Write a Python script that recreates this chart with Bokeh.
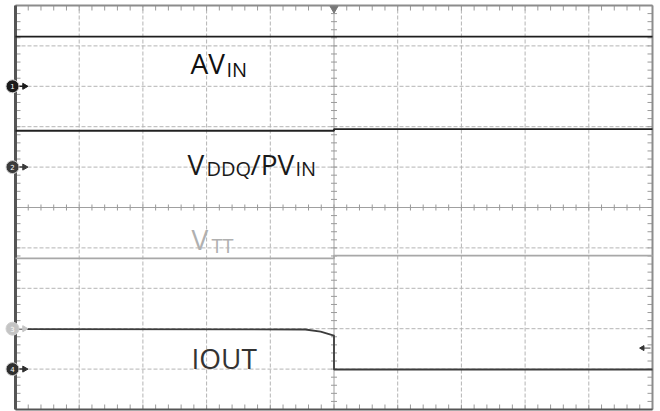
import math
from bokeh.plotting import figure
from bokeh.models import Range1d
from bokeh.embed import file_html
from bokeh.resources import INLINE
from bokeh.core.properties import value

# ---- data (screen divisions: time 0..10 div, amplitude 0..10 div) ----
t_avin = [0.0, 10.0]
v_avin = [9.23, 9.23]

t_vddq = [0.0, 5.0, 5.0, 10.0]
v_vddq = [6.90, 6.90, 6.94, 6.94]

t_vtt = [0.0, 5.0, 5.0, 10.0]
v_vtt = [3.74, 3.74, 3.81, 3.81]

t_iout = [0.0, 4.55, 4.79, 5.0, 5.0, 10.0]
v_iout = [1.99, 1.98, 1.93, 1.83, 0.99, 0.99]

channel_names = ["1", "2", "3", "4"]
channel_offsets = [8.0, 6.0, 2.0, 1.0]
channel_colors = ["#1a1a1a", "#3a3a3a", "#c4c4c4", "#2e2e2e"]

trigger_time = 5.0
trigger_level = 1.52

n_div_x = 10
n_div_y = 10
minor_per_div = 5

FONT = value("Open Sans")

# pixel geometry of the graticule
PX_X = 63.7   # px per horizontal division
PX_Y = 40.4   # px per vertical division
LEFT, TOP = 15, 5
W, H = 660, 411

def dx(px):
    return (px - LEFT) / PX_X

def dy(py):
    return n_div_y - (py - TOP) / PX_Y

p = figure(width=W, height=H, output_backend="svg", toolbar_location=None,
           x_range=Range1d(dx(0), dx(W)), y_range=Range1d(dy(H), dy(0)),
           x_axis_type=None, y_axis_type=None,
           min_border_left=0, min_border_right=0, min_border_top=0, min_border_bottom=0)
p.outline_line_color = None
p.background_fill_color = "white"
p.border_fill_color = "white"
p.grid.visible = False

# ---- graticule ----
gx = [i for i in range(1, n_div_x) if i != n_div_x // 2]
gy = [i for i in range(1, n_div_y) if i != n_div_y // 2]
p.segment(x0=gx, y0=[0] * len(gx), x1=gx, y1=[n_div_y] * len(gx),
          line_color="#b4b4b4", line_width=1, line_dash="4 2")
p.segment(x0=[0] * len(gy), y0=gy, x1=[n_div_x] * len(gy), y1=gy,
          line_color="#b4b4b4", line_width=1, line_dash="4 2")
cx, cy = n_div_x / 2, n_div_y / 2
p.segment(x0=[cx, 0], y0=[0, cy], x1=[cx, n_div_x], y1=[n_div_y, cy],
          line_color="#a0a0a0", line_width=1)

xt = [i / minor_per_div for i in range(n_div_x * minor_per_div + 1)]
yt = [i / minor_per_div for i in range(n_div_y * minor_per_div + 1)]
lx, ly = 5 / PX_X, 5 / PX_Y
cxl, cyl = 3 / PX_X, 3 / PX_Y
tick_col = "#9a9a9a"
p.segment(x0=xt, y0=[cy - cyl] * len(xt), x1=xt, y1=[cy + cyl] * len(xt), line_color=tick_col)
p.segment(x0=[cx - cxl] * len(yt), y0=yt, x1=[cx + cxl] * len(yt), y1=yt, line_color=tick_col)
p.segment(x0=xt, y0=[n_div_y] * len(xt), x1=xt, y1=[n_div_y - ly] * len(xt), line_color=tick_col)
p.segment(x0=xt, y0=[0] * len(xt), x1=xt, y1=[ly] * len(xt), line_color=tick_col)
p.segment(x0=[0] * len(yt), y0=yt, x1=[lx] * len(yt), y1=yt, line_color=tick_col)
p.segment(x0=[n_div_x] * len(yt), y0=yt, x1=[n_div_x - lx] * len(yt), y1=yt, line_color=tick_col)

p.segment(x0=[0, n_div_x], y0=[n_div_y, n_div_y], x1=[n_div_x, n_div_x], y1=[n_div_y, 0],
          line_color="#8c8c8c", line_width=2)
p.segment(x0=[0], y0=[0], x1=[n_div_x], y1=[0], line_color="#555555", line_width=2)
p.segment(x0=[0], y0=[0], x1=[0], y1=[n_div_y], line_color="#555555", line_width=3)

# ---- traces ----
p.line(t_avin, v_avin, line_color="#1e1e1e", line_width=1.8)
p.line(t_vddq, v_vddq, line_color="#222222", line_width=1.8)
p.line(t_vtt, v_vtt, line_color="#a8a8a8", line_width=1.8)
p.line(t_iout, v_iout, line_color="#3c3c3c", line_width=1.8)

# ---- channel markers ----
mx = dx(12)
ax = dx(24)
p.segment(x0=[mx] * 4, y0=channel_offsets, x1=[ax] * 4, y1=channel_offsets,
          line_color=channel_colors, line_width=1.5)
p.scatter(x=[ax] * 4, y=channel_offsets, marker="triangle", size=6,
          angle=-math.pi / 2, fill_color=channel_colors, line_color=channel_colors)
p.scatter(x=[mx] * 4, y=channel_offsets, marker="circle", size=13,
          fill_color=channel_colors, line_color="#d0d0d0", line_width=1)
p.text(x=[mx] * 4, y=channel_offsets, text=channel_names, text_align="center",
       text_baseline="middle", text_font_size="7px", text_color="white",
       text_font=value("DejaVu Sans"))

# trigger markers
p.scatter(x=[trigger_time], y=[dy(8)], marker="triangle", size=8,
          angle=math.pi, fill_color="#777777", line_color="#777777")
p.segment(x0=[dx(650)], y0=[trigger_level], x1=[dx(642)], y1=[trigger_level],
          line_color="#444444", line_width=1)
p.scatter(x=[dx(642)], y=[trigger_level], marker="triangle", size=5,
          angle=math.pi / 2, fill_color="#333333", line_color="#333333")

# ---- labels ----
MAIN = "28px"
SUB = "20px"

def lab(px, py, t, size, color):
    p.text(x=[dx(px)], y=[dy(py)], text=[t], text_font=FONT, text_font_size=size,
           text_color=color, text_align="left", text_baseline="alphabetic")

lab(190, 62, "AV", MAIN, "#111111")
lab(226, 69, "IN", SUB, "#111111")

lab(187, 163, "V", MAIN, "#1a1a1a")
lab(206, 168, "DDQ", SUB, "#1a1a1a")
lab(250, 163, "/PV", MAIN, "#1a1a1a")
lab(295, 168, "IN", SUB, "#1a1a1a")

lab(191, 238, "V", MAIN, "#b0b0b0")
lab(211, 245, "TT", SUB, "#b0b0b0")

lab(191, 357, "IOUT", MAIN, "#333333")

open("out.html", "w").write(file_html(p, INLINE))
